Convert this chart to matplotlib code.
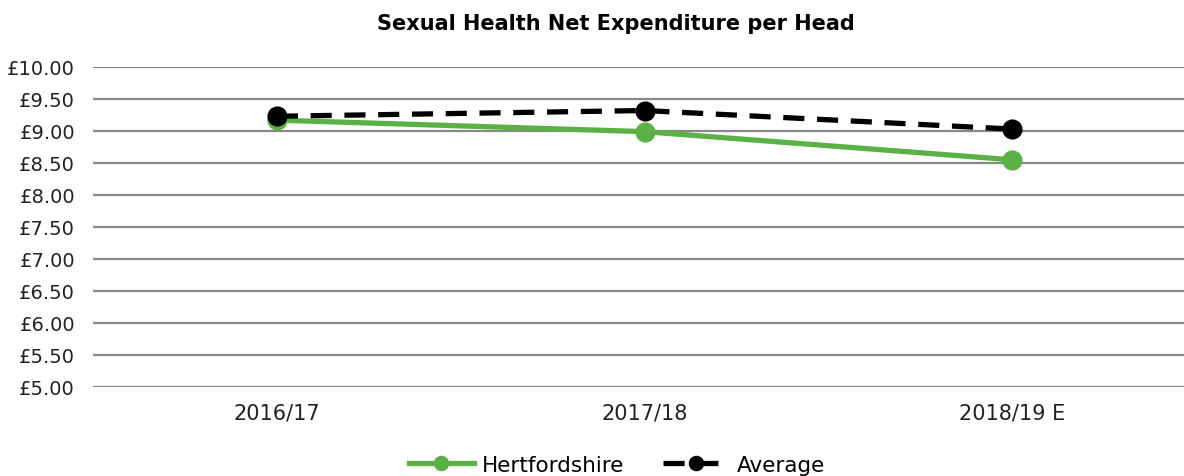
import matplotlib.pyplot as plt

plt.rcParams["font.family"] = ["DejaVu Sans"]

years = ["2016/17", "2017/18", "2018/19 E"]
hertfordshire = [9.17, 8.99, 8.55]
average = [9.23, 9.32, 9.03]
y_ticks = [5.0, 5.5, 6.0, 6.5, 7.0, 7.5, 8.0, 8.5, 9.0, 9.5, 10.0]

fig = plt.figure(figsize=(11.84, 4.77), dpi=100)
ax = fig.add_axes([93 / 1184, 1 - 388 / 477, (1196 - 93) / 1184, 320 / 477])

x = range(len(years))
ax.plot(x, hertfordshire, color="#5bb146", linewidth=3.8, marker="o",
        markersize=13.5, label="Hertfordshire", zorder=3)
ax.plot(x, average, color="black", linewidth=3.8, linestyle=(0, (4, 2.4)),
        marker="o", markersize=13.5, label="Average", zorder=4)

ax.set_xlim(-0.5, 2.5)
ax.set_ylim(5, 10)
ax.set_yticks(y_ticks)
ax.set_yticklabels([f"£{v:.2f}" for v in y_ticks])
ax.set_xticks(list(x))
ax.set_xticklabels(years)
ax.tick_params(axis="both", length=0, labelsize=15, colors="#222222")
ax.tick_params(axis="y", labelsize=14, pad=13)
ax.tick_params(axis="x", pad=11)
ax.grid(axis="y", color="#888888", linewidth=1.6)
ax.set_axisbelow(True)
for s in ax.spines.values():
    s.set_visible(False)

fig.text(616 / 1184, 1 - 24 / 477, "Sexual Health Net Expenditure per Head",
         ha="center", va="center", fontsize=15, fontweight="bold")

fig.legend(loc="center", bbox_to_anchor=(617 / 1184, 1 - 466 / 477), ncol=2,
           frameon=False, fontsize=15.5, handlelength=3.0, columnspacing=1.8,
           handletextpad=0.4, markerscale=0.75)

fig.savefig("out.png", dpi=100)
